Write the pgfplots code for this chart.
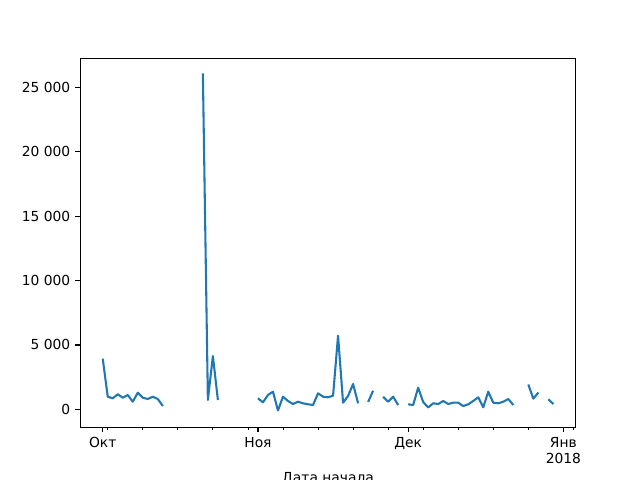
\documentclass[border=0pt]{standalone}
\usepackage{pgfplots}
\pgfplotsset{compat=1.18}
\usepackage{fontspec}
\setmainfont{DejaVu Sans}
\definecolor{mplblue}{HTML}{1F77B4}
\begin{document}
\begin{tikzpicture}
\useasboundingbox (0,0) rectangle (6.4in,4.8in);
\begin{axis}[
  at={(0.802in,0.527in)}, anchor=south west,
  width=4.957in, height=3.69in, scale only axis,
  xmin=-4.5, xmax=94.5, ymin=-1399, ymax=27273,
  scaled y ticks=false,
  axis line style={line width=0.8pt},
  xtick={0,31,61,92},
  xticklabels={Окт,Ноя,Дек,{Янв\\2018}},
  xticklabel style={align=center, inner sep=0pt, yshift=-3.5pt},
  yticklabel style={inner sep=0pt, xshift=-3.5pt},
  minor xtick={1,8,15,22,29,36,43,50,57,64,71,78,85,94},
  ytick={0,5000,10000,15000,20000,25000},
  yticklabels={0,5~000,10~000,15~000,20~000,25~000},
  tick align=outside, tick pos=left,
  major tick length=3.5pt, minor tick length=2pt,
  major tick style={black, line width=0.8pt},
  minor tick style={black, line width=0.6pt},
  xlabel={Дата начала},
  xlabel style={inner sep=0pt, yshift=-6pt},
  unbounded coords=jump,
  font=\fontsize{10}{12}\selectfont,
]
\addplot[mplblue, line width=1.5pt, line join=round] coordinates {
(0,3934) (1,979) (2,855) (3,1166) (4,901) (5,1111) (6,590) (7,1290) (8,901) (9,800) (10,979) (11,800) (12,256)
(13,nan) (20,26107) (21,722) (22,4141) (23,722) (24,nan)
(31,855) (32,544) (33,1111) (34,1367) (35,-90) (36,979) (37,645) (38,412) (39,590) (40,466) (41,388) (42,334)
(43,1243) (44,979) (45,932) (46,1057) (47,5719) (48,513) (49,1033) (50,1966) (51,466) (52,nan)
(53,567) (54,1445) (55,nan) (56,979) (57,590) (58,979) (59,334) (60,nan)
(61,388) (62,334) (63,1678) (64,567) (65,140) (66,466) (67,412) (68,645) (69,412) (70,513) (71,513) (72,256)
(73,388) (74,645) (75,932) (76,155) (77,1367) (78,513) (79,466) (80,590) (81,800) (82,334) (83,nan)
(85,1927) (86,824) (87,1305) (88,nan) (89,777) (90,412)
};
\end{axis}
\end{tikzpicture}
\end{document}
